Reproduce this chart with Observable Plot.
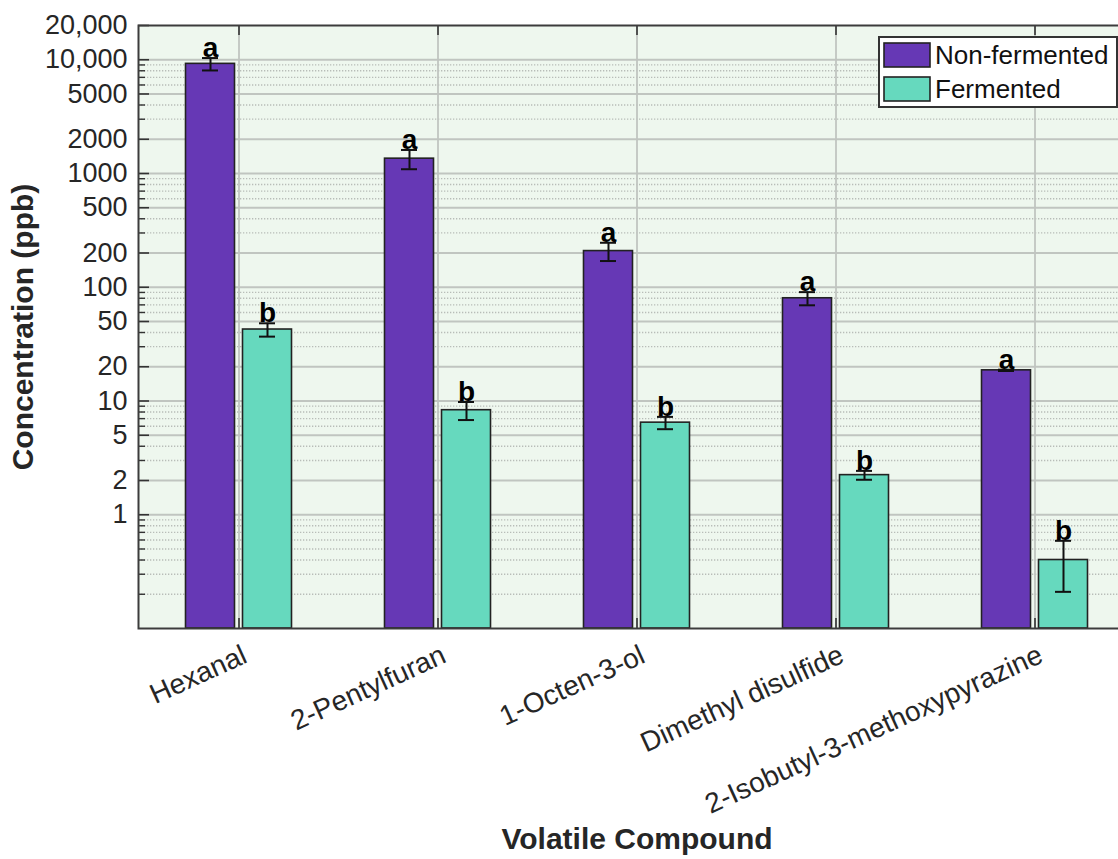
<!DOCTYPE html>
<html>
<head>
<meta charset="utf-8">
<script src="https://cdn.jsdelivr.net/npm/d3@7"></script>
<script src="https://cdn.jsdelivr.net/npm/@observablehq/plot@0.6"></script>
<style>
  html, body { margin: 0; padding: 0; background: #fff; overflow: hidden; }
  #wrap { position: relative; width: 1118px; height: 859px; }
  #wrap > svg.plot { position: absolute; left: 0; top: 0; }
  #legend { position: absolute; left: 878px; top: 36px; }
</style>
</head>
<body>
<div id="wrap"></div>
<script>
// Volatile compound concentrations (ppb), mean and standard deviation
const compounds = ["Hexanal", "2-Pentylfuran", "1-Octen-3-ol", "Dimethyl disulfide", "2-Isobutyl-3-methoxypyrazine"];
const groups = ["Non-fermented", "Fermented"];
const groupColors = ["#6638b5", "#66d9be"];

const nonFermented   = [9200, 1350, 208, 80, 18.6];
const nonFermentedSD = [1150, 260, 38, 10.6, 0.25];
const nonFermentedLetters = ["a", "a", "a", "a", "a"];

const fermented   = [42.5, 8.3, 6.45, 2.23, 0.40];
const fermentedSD = [5.7, 1.5, 0.8, 0.2, 0.19];
const fermentedLetters = ["b", "b", "b", "b", "b"];

const yTickValues = [1, 2, 5, 10, 20, 50, 100, 200, 500, 1000, 2000, 5000, 10000, 20000];
const yTickLabels = ["1", "2", "5", "10", "20", "50", "100", "200", "500", "1000", "2000", "5000", "10,000", "20,000"];
const yDomain = [0.1, 20000];

const yLabel = "Concentration (ppb)";
const xLabel = "Volatile Compound";

// Long-form table built from the arrays above
const seriesValues = [nonFermented, fermented];
const seriesSD = [nonFermentedSD, fermentedSD];
const seriesLetters = [nonFermentedLetters, fermentedLetters];
const rows = [];
groups.forEach((g, gi) => {
  compounds.forEach((c, ci) => {
    const v = seriesValues[gi][ci], s = seriesSD[gi][ci];
    rows.push({compound: c, group: g, value: v, lo: v - s, hi: v + s, letter: seriesLetters[gi][ci]});
  });
});

// Gridlines: solid at 1-2-5 steps, dotted at the remaining integer multiples of each decade
const majorGrid = yTickValues.filter(v => v < yDomain[1]);
const minorGrid = [];
for (const d of [0.1, 1, 10, 100, 1000]) {
  for (const m of [2, 3, 4, 5, 6, 7, 8, 9]) {
    const v = +(d * m).toPrecision(3);
    if (!yTickValues.includes(v)) minorGrid.push(v);
  }
}

const W = 1118, H = 859;
const mL = 138, mR = -17, mT = 25, mB = 231;
const innerW = W - mL - mR, innerH = H - mT - mB;
const font = '"Liberation Sans", Arial, Helvetica, sans-serif';
const offsets = [-28.5, 28.5];

const marks = [
  Plot.frame({fill: "#eef7ee", stroke: null}),
  Plot.ruleY(minorGrid, {y: d => d, stroke: "#b8bdb8", strokeWidth: 1.3, strokeDasharray: "1.3,1.7"}),
  Plot.ruleY(majorGrid, {y: d => d, stroke: "#c0c5c0", strokeWidth: 1.8}),
  Plot.ruleX(compounds, {x: d => d, stroke: "#c0c5c0", strokeWidth: 1.8}),
  // inward tick marks
  Plot.ruleY(yTickValues, {y: d => d, insetRight: innerW - 11, stroke: "#333", strokeWidth: 1.6}),
  Plot.ruleY(minorGrid, {y: d => d, insetRight: innerW - 7, stroke: "#333", strokeWidth: 1.4}),
  Plot.ruleX(compounds, {x: d => d, insetBottom: innerH - 10, stroke: "#333", strokeWidth: 1.6}),
  Plot.ruleX(compounds, {x: d => d, insetTop: innerH - 10, stroke: "#333", strokeWidth: 1.6})
];

groups.forEach((g, gi) => {
  const sel = rows.filter(r => r.group === g);
  const dx = offsets[gi];
  marks.push(
    Plot.barY(sel, {x: "compound", y1: yDomain[0], y2: "value", dx, fill: groupColors[gi], stroke: "#222", strokeWidth: 1.6}),
    Plot.ruleX(sel, {x: "compound", y1: "lo", y2: "hi", dx, stroke: "#111", strokeWidth: 2}),
    Plot.tickY(sel, {x: "compound", y: "hi", dx, insetLeft: 16.5, insetRight: 16.5, stroke: "#111", strokeWidth: 2}),
    Plot.tickY(sel, {x: "compound", y: "lo", dx, insetLeft: 16.5, insetRight: 16.5, stroke: "#111", strokeWidth: 2}),
    Plot.text(sel, {x: "compound", y: "hi", text: "letter", dx, dy: -1, lineAnchor: "bottom", fontSize: 28, fontWeight: "bold", fill: "#000"})
  );
});

marks.push(
  Plot.frame({stroke: "#3c3c3c", strokeWidth: 2}),
  // y tick labels
  Plot.text(yTickValues, {y: d => d, text: (d, i) => yTickLabels[i], frameAnchor: "left", textAnchor: "end", lineAnchor: "middle", dx: -11, fontSize: 27, fill: "#262626"}),
  // x tick labels
  Plot.text(compounds, {x: d => d, text: d => d, frameAnchor: "bottom", rotate: -24.5, textAnchor: "end", lineAnchor: "middle", dx: 6, dy: 25, fontSize: 28, fill: "#262626"}),
  // axis titles
  Plot.text([yLabel], {text: d => d, frameAnchor: "left", rotate: -90, textAnchor: "middle", lineAnchor: "middle", dx: -115, fontSize: 30, fontWeight: "bold", fill: "#262626"}),
  Plot.text([xLabel], {text: d => d, frameAnchor: "bottom", textAnchor: "middle", lineAnchor: "bottom", dy: 220, fontSize: 30, fontWeight: "bold", fill: "#262626"})
);

const chart = Plot.plot({
  width: W,
  height: H,
  marginLeft: mL,
  marginRight: mR,
  marginTop: mT,
  marginBottom: mB,
  style: {fontFamily: font, background: "transparent", overflow: "visible"},
  x: {type: "band", domain: compounds, paddingInner: 0.754, paddingOuter: 0.377, axis: null},
  y: {type: "log", domain: yDomain, axis: null},
  marks
});

const wrap = document.getElementById("wrap");
wrap.appendChild(chart);

// Legend box inside the plot's upper-right corner
const lg = d3.select(wrap).append("svg")
  .attr("id", "legend")
  .attr("width", 240)
  .attr("height", 73)
  .style("font-family", font);
lg.append("rect").attr("x", 1).attr("y", 1).attr("width", 238).attr("height", 70)
  .attr("fill", "#fff").attr("stroke", "#333").attr("stroke-width", 2);
groups.forEach((g, i) => {
  lg.append("rect").attr("x", 6).attr("y", 7 + i * 34).attr("width", 46).attr("height", 24)
    .attr("fill", groupColors[i]).attr("stroke", "#222").attr("stroke-width", 1.6);
  lg.append("text").attr("x", 57).attr("y", 28 + i * 34).attr("font-size", 26).attr("fill", "#111").text(g);
});
</script>
</body>
</html>
